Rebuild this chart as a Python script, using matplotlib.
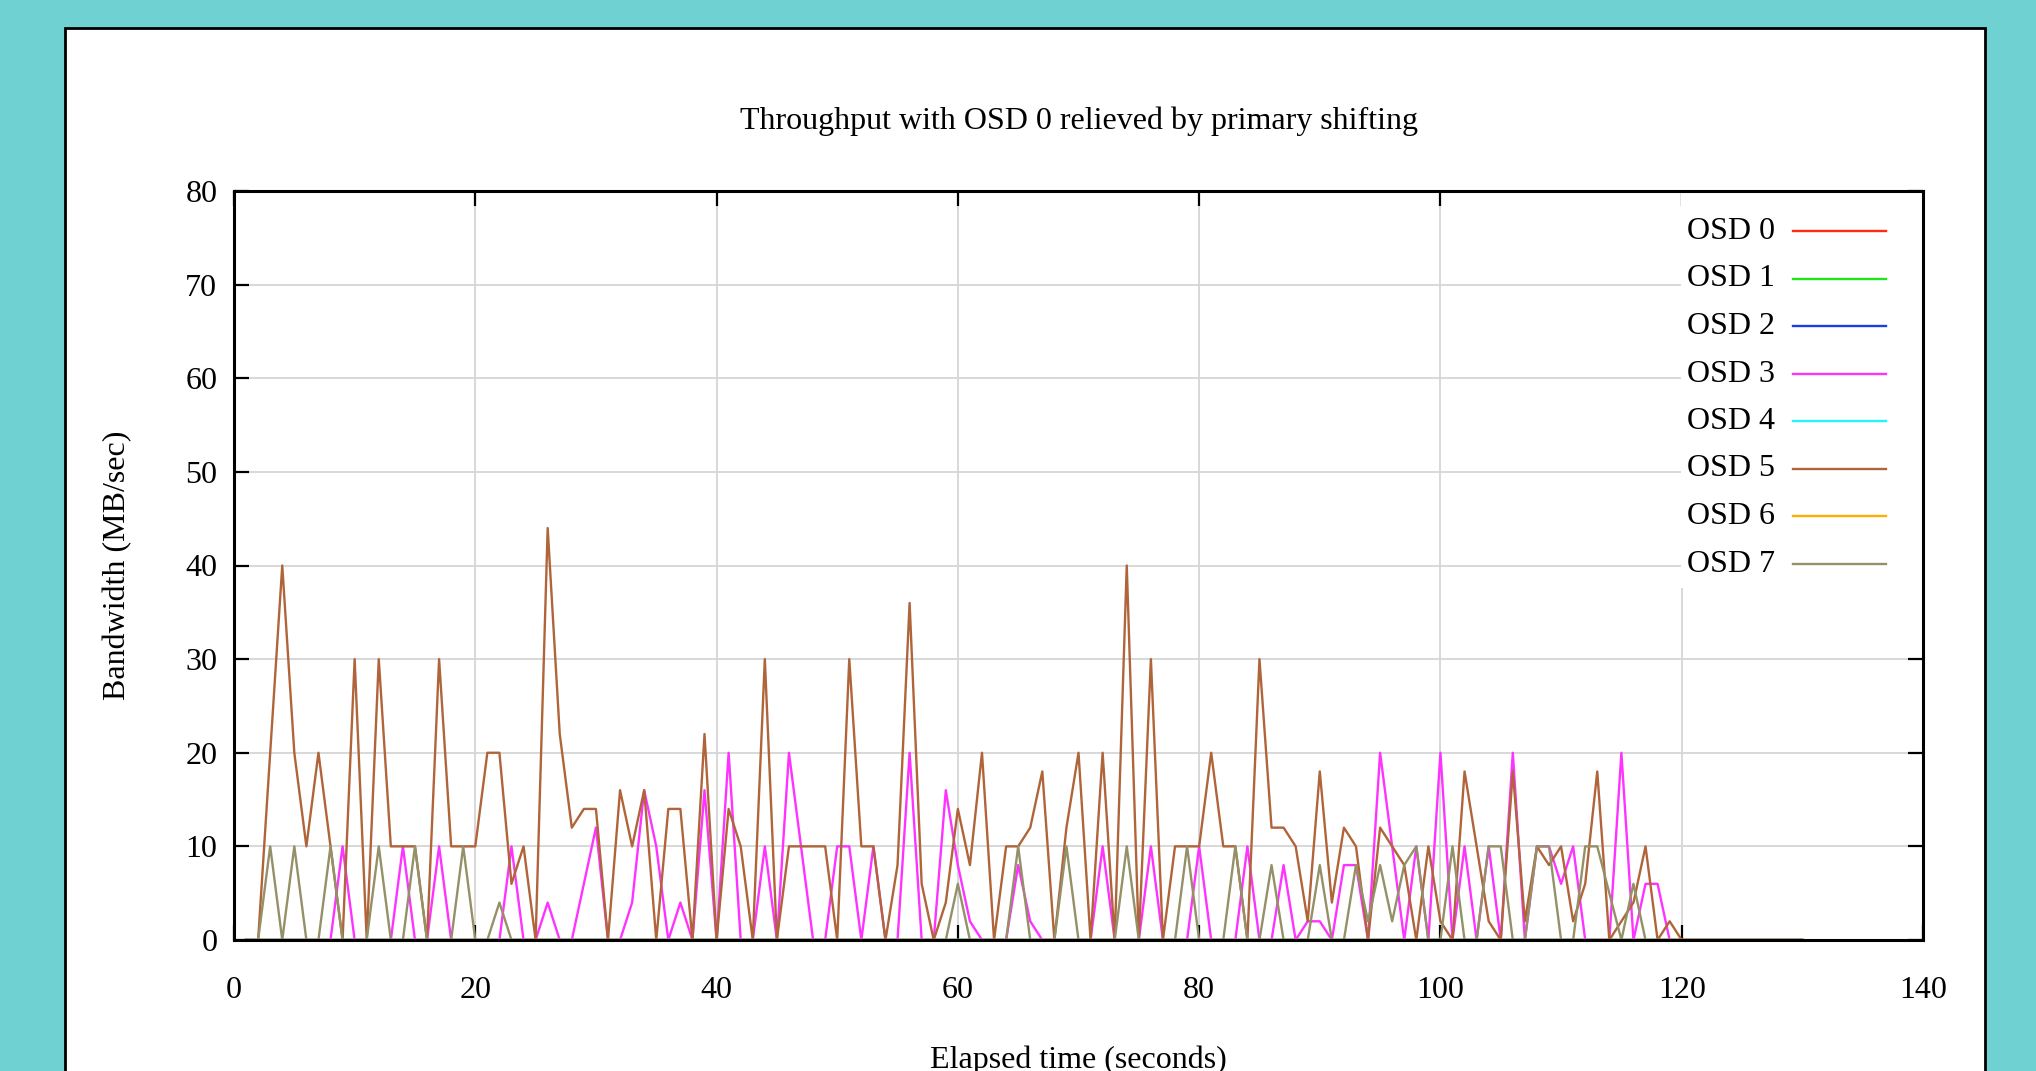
import matplotlib
matplotlib.use("Agg")
import matplotlib.pyplot as plt
from matplotlib.patches import Rectangle
from matplotlib.lines import Line2D
import numpy as np

plt.rcParams['font.family'] = ['Liberation Serif', 'DejaVu Serif']

# ---- data (seconds 1..130) ----
t = list(range(1, 131))

osd5_head = [0, 0, 20, 40, 20, 10, 20, 10, 0, 30,
             0, 30, 10, 10, 10, 0, 30, 10, 10, 10,
             20, 20, 6, 10, 0, 44, 22, 12, 14, 14,
             0, 16, 10, 16, 0, 14, 14, 0, 22, 0,
             14, 10, 0, 30, 0, 10, 10, 10, 10, 0,
             30, 10, 10, 0, 8, 36, 6, 0, 4, 14,
             8, 20, 0, 10, 10, 12, 18, 0, 12, 20,
             0, 20, 0, 40, 0, 30, 0, 10, 10, 10,
             20, 10, 10, 0, 30, 12, 12, 10, 2, 18,
             4, 12, 10, 0, 12, 10, 8, 0, 10, 2,
             0, 18, 10, 2, 0, 18, 2, 10, 8, 10,
             2, 6, 18, 0, 2, 4, 10, 0, 2, 0]
osd3_head = [0, 0, 0, 0, 0, 0, 0, 0, 10, 0,
             0, 0, 0, 10, 0, 0, 10, 0, 0, 0,
             0, 0, 10, 0, 0, 4, 0, 0, 6, 12,
             0, 0, 4, 16, 10, 0, 4, 0, 16, 0,
             20, 0, 0, 10, 0, 20, 10, 0, 0, 10,
             10, 0, 10, 0, 0, 20, 0, 0, 16, 8,
             2, 0, 0, 0, 8, 2, 0, 0, 0, 0,
             0, 10, 0, 0, 0, 10, 0, 0, 0, 10,
             0, 0, 0, 10, 0, 0, 8, 0, 2, 2,
             0, 8, 8, 0, 20, 10, 0, 10, 0, 20,
             0, 10, 0, 10, 0, 20, 0, 10, 10, 6,
             10, 0, 0, 0, 20, 0, 6, 6, 0, 0]
osd7_head = [0, 0, 10, 0, 10, 0, 0, 10, 0, 0,
             0, 10, 0, 0, 10, 0, 0, 0, 10, 0,
             0, 4, 0, 0, 0, 0, 0, 0, 0, 0,
             0, 0, 0, 0, 0, 0, 0, 0, 0, 0,
             0, 0, 0, 0, 0, 0, 0, 0, 0, 0,
             0, 0, 0, 0, 0, 0, 0, 0, 0, 6,
             0, 0, 0, 0, 10, 0, 0, 0, 10, 0,
             0, 0, 0, 10, 0, 0, 0, 0, 10, 0,
             0, 0, 10, 0, 0, 8, 0, 0, 0, 8,
             0, 0, 8, 2, 8, 2, 8, 10, 0, 0,
             10, 0, 0, 10, 10, 0, 0, 10, 10, 0,
             0, 10, 10, 5, 0, 6, 0, 0, 0, 0]
tail = [0] * 10

osd0 = [0] * 130
osd1 = [0] * 130
osd2 = [0] * 130
osd3 = osd3_head + tail
osd4 = [0] * 130
osd5 = osd5_head + tail
osd6 = [0] * 130
osd7 = osd7_head + tail

labels = ['OSD 0', 'OSD 1', 'OSD 2', 'OSD 3', 'OSD 4', 'OSD 5', 'OSD 6', 'OSD 7']
series = [osd0, osd1, osd2, osd3, osd4, osd5, osd6, osd7]
colors = ['#ff2a10', '#1ee61e', '#1a3fe0', '#ff33ff', '#22f5f5', '#b0643a', '#ffad00', '#949068']

xticks = [0, 20, 40, 60, 80, 100, 120, 140]
yticks = [0, 10, 20, 30, 40, 50, 60, 70, 80]

FS = 23

W, H = 2036, 1071
fig = plt.figure(figsize=(W / 100, H / 100), dpi=100)
fig.patch.set_facecolor('#6fd1d1')

# white panel
panel = Rectangle((65 / W, -0.2), (1985 - 65) / W, 1.2 - 28 / H,
                  transform=fig.transFigure, facecolor='white',
                  edgecolor='black', linewidth=2.0, zorder=-10)
fig.patches.append(panel)

L, R, T, B = 234, 1923, 191, 940
ax = fig.add_axes([L / W, 1 - B / H, (R - L) / W, (B - T) / H])
ax.set_zorder(5)
ax.set_facecolor('white')

for s, c, lab in zip(series, colors, labels):
    ax.plot(t, s, color=c, lw=1.7, label=lab, zorder=3)

ax.set_xlim(0, 140)
ax.set_ylim(0, 80)
ax.set_xticks(xticks)
ax.set_yticks(yticks)
ax.grid(True, color='#d6d6d6', lw=1.3, zorder=1)
ax.set_axisbelow(True)
ax.tick_params(direction='in', length=11, width=1.6, top=True, right=True,
               labelsize=FS)
ax.tick_params(axis='x', pad=26)
ax.tick_params(axis='y', pad=12)
for sp in ax.spines.values():
    sp.set_linewidth(2.2)
    sp.set_zorder(5)

def ax_x(px):
    return (px - L) / (R - L)

def ax_y(py):
    return (B - py) / (B - T)

ax.text(0.5, ax_y(121), 'Throughput with OSD 0 relieved by primary shifting',
        transform=ax.transAxes, fontsize=FS, ha='center', va='center')
ax.set_xlabel('Elapsed time (seconds)', fontsize=FS, va='center')
ax.xaxis.set_label_coords(0.5, ax_y(1060))
ax.set_ylabel('Bandwidth (MB/sec)', fontsize=FS, va='center')
ax.yaxis.set_label_coords(ax_x(118), 0.5)

# key (gnuplot style, opaque box, text left of sample)
ax.add_patch(Rectangle((ax_x(1681), ax_y(588)), 1 - ax_x(1681), 1 - ax_y(588),
                       transform=ax.transAxes, facecolor='white',
                       edgecolor='none', zorder=2))
for i, (lab, c) in enumerate(zip(labels, colors)):
    yl = 231 + 47.5 * i
    ax.text(ax_x(1775), ax_y(yl + 8), lab, transform=ax.transAxes,
            ha='right', va='baseline', fontsize=FS, zorder=6)
    ax.add_line(Line2D([ax_x(1793), ax_x(1886)], [ax_y(yl), ax_y(yl)],
                       transform=ax.transAxes, color=c, lw=1.7, zorder=6))

fig.savefig('out.png', dpi=100, facecolor=fig.get_facecolor())
